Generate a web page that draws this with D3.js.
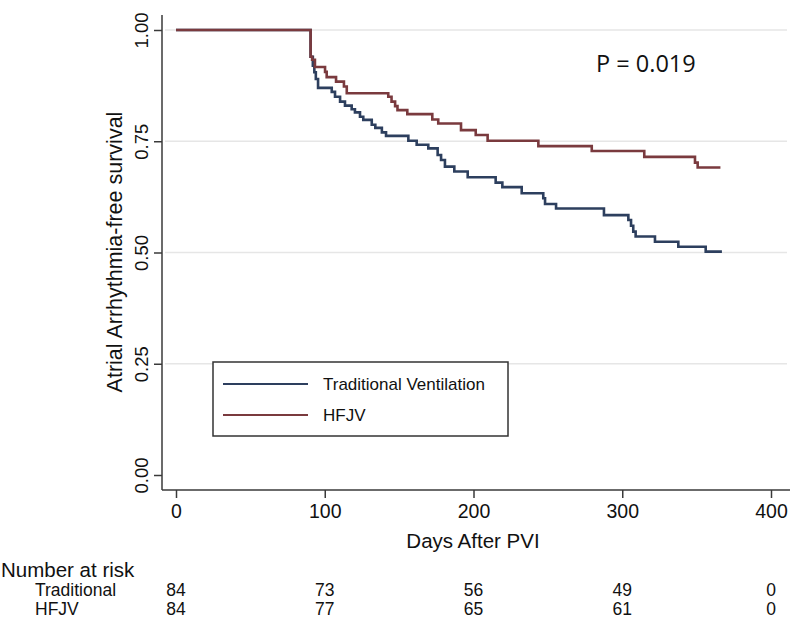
<!DOCTYPE html>
<html>
<head>
<meta charset="utf-8">
<script src="https://cdn.jsdelivr.net/npm/d3@7"></script>
<style>
  html, body { margin: 0; padding: 0; background: #fff; }
  svg { display: block; font-family: "Liberation Sans", Arial, Helvetica, sans-serif; }
</style>
</head>
<body>
<svg id="chart" width="800" height="626"></svg>
<script>
// ---- data ----
const tradDays = [0, 90.5, 92, 93, 94, 95.5, 104.7, 106.9, 110.3, 113.6, 118.1, 120.3, 123.7, 125.9, 131.6, 134, 138.4, 141.2, 156.2, 161.8, 169.6, 175.9, 178.2, 180.8, 187.1, 196.1, 214.9, 219.4, 232.4, 246.9, 248.1, 255.5, 287.7, 304.1, 305.9, 307.4, 309.0, 322.0, 337.7, 356.1, 367];
const tradSurv = [1, 0.94, 0.92, 0.905, 0.89, 0.870, 0.861, 0.850, 0.839, 0.830, 0.822, 0.815, 0.805, 0.798, 0.787, 0.780, 0.770, 0.762, 0.751, 0.742, 0.734, 0.719, 0.708, 0.693, 0.682, 0.669, 0.657, 0.647, 0.633, 0.622, 0.609, 0.599, 0.584, 0.573, 0.560, 0.547, 0.536, 0.524, 0.513, 0.502, 0.502];

const hfjvDays = [0, 90.5, 91.5, 93.4, 100.2, 101.3, 107.6, 112.9, 114.8, 142.7, 144.9, 147.3, 148.9, 155.5, 172.3, 176.3, 191.6, 201.5, 209.5, 243.6, 279.5, 314.8, 348.9, 350.7, 366];
const hfjvSurv = [1, 0.94, 0.933, 0.917, 0.906, 0.894, 0.884, 0.873, 0.858, 0.850, 0.839, 0.829, 0.820, 0.811, 0.799, 0.790, 0.775, 0.764, 0.751, 0.739, 0.728, 0.715, 0.702, 0.691, 0.691];

const xTicks = [0, 100, 200, 300, 400];
const yTicks = [0, 0.25, 0.5, 0.75, 1];
const gridTicks = [0.25, 0.5, 0.75, 1];
const riskDays = [0, 100, 200, 300, 400];
const tradRisk = [84, 73, 56, 49, 0];
const hfjvRisk = [84, 77, 65, 61, 0];
const seriesNames = ["Traditional Ventilation", "HFJV"];
const riskLabels = ["Traditional", "HFJV"];
const pText = "P = 0.019";

// ---- styles ----
const colTrad = "#2d3f5e";
const colHfjv = "#7a3a3e";
const axisCol = "#3a3a3a";

const svg = d3.select("#chart");
const x = d3.scaleLinear().domain([0, 400]).range([176, 771]);
const y = d3.scaleLinear().domain([0, 1]).range([475, 30]);
const axX = 162, axY = 490;

// gridlines
svg.append("g").selectAll("line").data(gridTicks).join("line")
  .attr("x1", 165).attr("x2", 787)
  .attr("y1", d => y(d)).attr("y2", d => y(d))
  .attr("stroke", "#e6e6e6").attr("stroke-width", 1.5);

// y axis
const yAxis = d3.axisLeft(y).tickValues(yTicks).tickFormat(d3.format(".2f")).tickSize(8).tickPadding(0);
const gy = svg.append("g").attr("transform", `translate(${axX},0)`).call(yAxis);
gy.select(".domain").remove();
gy.selectAll(".tick line").attr("stroke", axisCol).attr("stroke-width", 1.5);
gy.selectAll(".tick text")
  .attr("x", null).attr("dy", null)
  .attr("transform", "translate(-14,0) rotate(-90)")
  .attr("text-anchor", "middle")
  .attr("fill", "#111")
  .style("font-size", "18.5px")
  .style("font-family", "'Liberation Sans', Arial, sans-serif");
svg.append("line").attr("x1", axX).attr("x2", axX).attr("y1", 15).attr("y2", axY)
  .attr("stroke", axisCol).attr("stroke-width", 1.5);

// x axis
const xAxis = d3.axisBottom(x).tickValues(xTicks).tickFormat(d3.format("d")).tickSize(8).tickPadding(6);
const gx = svg.append("g").attr("transform", `translate(0,${axY})`).call(xAxis);
gx.select(".domain").remove();
gx.selectAll(".tick line").attr("stroke", axisCol).attr("stroke-width", 1.5);
gx.selectAll(".tick text").attr("fill", "#111")
  .style("font-size", "19.5px")
  .style("font-family", "'Liberation Sans', Arial, sans-serif");
svg.append("line").attr("x1", axX).attr("x2", 790).attr("y1", axY).attr("y2", axY)
  .attr("stroke", axisCol).attr("stroke-width", 1.5);

// axis titles
svg.append("text").attr("transform", `translate(122,252) rotate(-90)`)
  .attr("text-anchor", "middle").style("font-size", "21.5px").attr("fill", "#111")
  .text("Atrial Arrhythmia-free survival");
svg.append("text").attr("x", 473).attr("y", 548)
  .attr("text-anchor", "middle").style("font-size", "20.5px").attr("fill", "#111")
  .text("Days After PVI");

// curves
const line = d3.line().x(d => x(d[0])).y(d => y(d[1])).curve(d3.curveStepAfter);
const tradPts = tradDays.map((d, i) => [d, tradSurv[i]]);
const hfjvPts = hfjvDays.map((d, i) => [d, hfjvSurv[i]]);
svg.append("path").datum(tradPts).attr("d", line)
  .attr("fill", "none").attr("stroke", colTrad).attr("stroke-width", 2.6);
svg.append("path").datum(hfjvPts).attr("d", line)
  .attr("fill", "none").attr("stroke", colHfjv).attr("stroke-width", 2.6);

// legend
const lg = svg.append("g");
lg.append("rect").attr("x", 213).attr("y", 362).attr("width", 295).attr("height", 74)
  .attr("fill", "#fff").attr("stroke", "#333").attr("stroke-width", 1.5);
const legCols = [colTrad, colHfjv];
seriesNames.forEach((name, i) => {
  const ly = 384 + i * 31;
  lg.append("line").attr("x1", 223).attr("x2", 308).attr("y1", ly).attr("y2", ly)
    .attr("stroke", legCols[i]).attr("stroke-width", 2.2);
  lg.append("text").attr("x", 323).attr("y", ly + 6).style("font-size", "17px")
    .attr("fill", "#111").text(name);
});

// P value
svg.append("text").attr("x", 596).attr("y", 72)
  .style("font-family", "'Open Sans', sans-serif").style("font-size", "23.5px")
  .attr("fill", "#111").text(pText);

// number at risk table
svg.append("text").attr("x", 1).attr("y", 577).style("font-size", "20.5px")
  .attr("fill", "#111").text("Number at risk");
const riskRows = [tradRisk, hfjvRisk];
riskRows.forEach((row, r) => {
  const ry = 596 + r * 19;
  svg.append("text").attr("x", 35).attr("y", ry).style("font-size", "17.5px")
    .attr("fill", "#111").text(riskLabels[r]);
  svg.append("g").selectAll("text").data(row).join("text")
    .attr("x", (d, i) => x(riskDays[i])).attr("y", ry)
    .attr("text-anchor", "middle").style("font-size", "17.5px")
    .attr("fill", "#111").text(d => d);
});
</script>
</body>
</html>
